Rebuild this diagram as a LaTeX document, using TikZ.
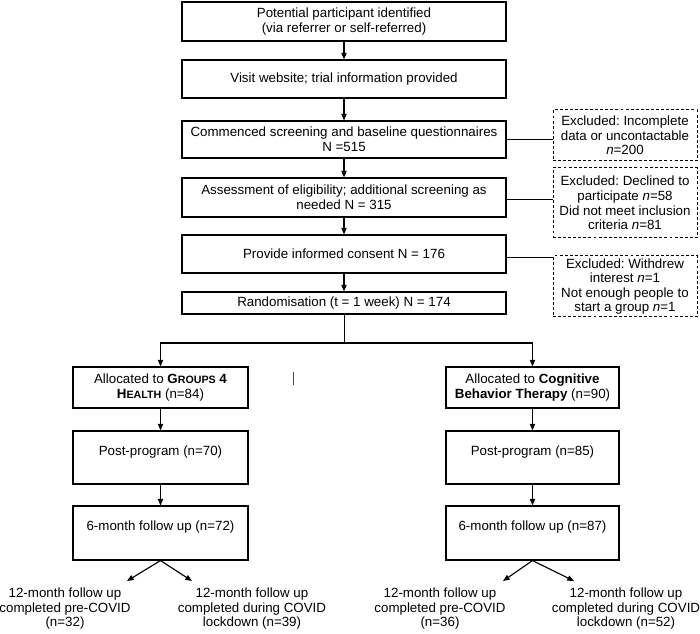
\documentclass[tikz,border=0pt]{standalone}
\usepackage{fontspec}
\setmainfont{Liberation Sans}
\usetikzlibrary{arrows.meta}
\newcommand{\fsc}[1]{{\fontsize{8}{8}\selectfont #1}}
\frenchspacing
\begin{document}
\begin{tikzpicture}[x=0.75pt,y=-0.75pt,
  txt/.style={font=\fontsize{10}{10.9}\selectfont},
  box/.style={txt, draw, line width=0.85pt, align=center, inner sep=0pt},
  mainbox/.style={box, minimum width=243pt},
  excl/.style={txt, draw, dash pattern=on 2.2pt off 1.6pt, line width=0.75pt, align=center, inner sep=0pt, minimum width=108pt},
  plain/.style={txt, align=center, inner sep=0pt},
  arr/.style={-{Triangle[length=5pt,width=4pt]}, line width=0.85pt},
  link/.style={line width=0.75pt}]
\useasboundingbox (0,0) rectangle (700,634);
% main column
\node[mainbox, minimum height=29.25pt] (b1) at (344,21.5) {Potential participant identified\\(via referrer or self-referred)};
\node[mainbox, minimum height=28.5pt] (b2) at (344,79) {Visit website; trial information provided};
\node[mainbox, minimum height=27.75pt] (b3) at (344,139.5) {Commenced screening and baseline questionnaires\\N =515};
\node[mainbox, minimum height=29.25pt] (b4) at (344,197.5) {Assessment of eligibility; additional screening as\\needed N = 315};
\node[mainbox, minimum height=28.5pt] (b5) at (344,254) {Provide informed consent N = 176};
\node[mainbox, minimum height=16.5pt] (b6) at (344,303) {Randomisation (t = 1 week) N = 174};
% exclusions
\node[excl, minimum height=38.25pt] (xa) at (625,135.5) {Excluded: Incomplete\\data or uncontactable\\\textit{n}=200};
\node[excl, minimum height=52.5pt] (xb) at (625,203) {Excluded: Declined to\\participate \textit{n}=58\\Did not meet inclusion\\criteria \textit{n}=81};
\node[excl, minimum height=45.75pt] (xc) at (625,286.5) {Excluded: Withdrew\\interest \textit{n}=1\\Not enough people to\\start a group \textit{n}=1};
% arms
\node[box, minimum width=131.25pt, minimum height=30.75pt] (al) at (160.5,387.5) {Allocated to \textbf{G\fsc{ROUPS} 4}\\\textbf{H\fsc{EALTH}} (n=84)};
\node[box, minimum width=129.75pt, minimum height=30.75pt] (ar) at (532.5,387.5) {Allocated to \textbf{Cognitive}\\\textbf{Behavior Therapy} (n=90)};
\node[box, minimum width=131.25pt, minimum height=39.75pt] (pl) at (160.5,457.5) {Post-program (n=70)\\\mbox{}};
\node[box, minimum width=129.75pt, minimum height=39.75pt] (pr) at (532.5,457.5) {Post-program (n=85)\\\mbox{}};
\node[box, minimum width=131.25pt, minimum height=40.5pt] (sl) at (160.5,533) {6-month follow up (n=72)\\\mbox{}};
\node[box, minimum width=129.75pt, minimum height=40.5pt] (sr) at (532.5,533) {6-month follow up (n=87)\\\mbox{}};
% outcomes
\node[plain] (oll) at (65,609) {12-month follow up\\completed pre-COVID\\(n=32)};
\node[plain] (olr) at (252,609) {12-month follow up\\completed during COVID\\lockdown (n=39)};
\node[plain] (orl) at (440,609) {12-month follow up\\completed pre-COVID\\(n=36)};
\node[plain] (orr) at (626,609) {12-month follow up\\completed during COVID\\lockdown (n=52)};
\coordinate (tll) at (127,581);
\coordinate (tlr) at (192,581);
\coordinate (trl) at (503,581);
\coordinate (trr) at (574,581);
\coordinate (split) at (344,343);
% connectors
\draw[arr] (b1) -- (b2);
\draw[arr] (b2) -- (b3);
\draw[arr] (b3) -- (b4);
\draw[arr] (b4) -- (b5);
\draw[arr] (b5) -- (b6);
\draw[link] (b3.east) -- (b3.east -| xa.west);
\draw[link] ([yshift=-1.5pt]b4.east) -- ([yshift=-1.5pt]b4.east -| xb.west);
\draw[link] ([yshift=-2.5pt]b5.east) -- ([yshift=-2.5pt]b5.east -| xc.west);
\draw[link] (b6.south) -- (split);
\draw[arr] (split) -| (al.north);
\draw[arr] (split) -| (ar.north);
\draw[arr] (al) -- (pl);
\draw[arr] (ar) -- (pr);
\draw[arr] (pl) -- (sl);
\draw[arr] (pr) -- (sr);
\draw[arr] (sl.south) -- (tll);
\draw[arr] (sl.south) -- (tlr);
\draw[arr] (sr.south) -- (trl);
\draw[arr] (sr.south) -- (trr);
\draw[line width=0.5pt, black!70] (293,372) -- (293,385);
\end{tikzpicture}
\end{document}
